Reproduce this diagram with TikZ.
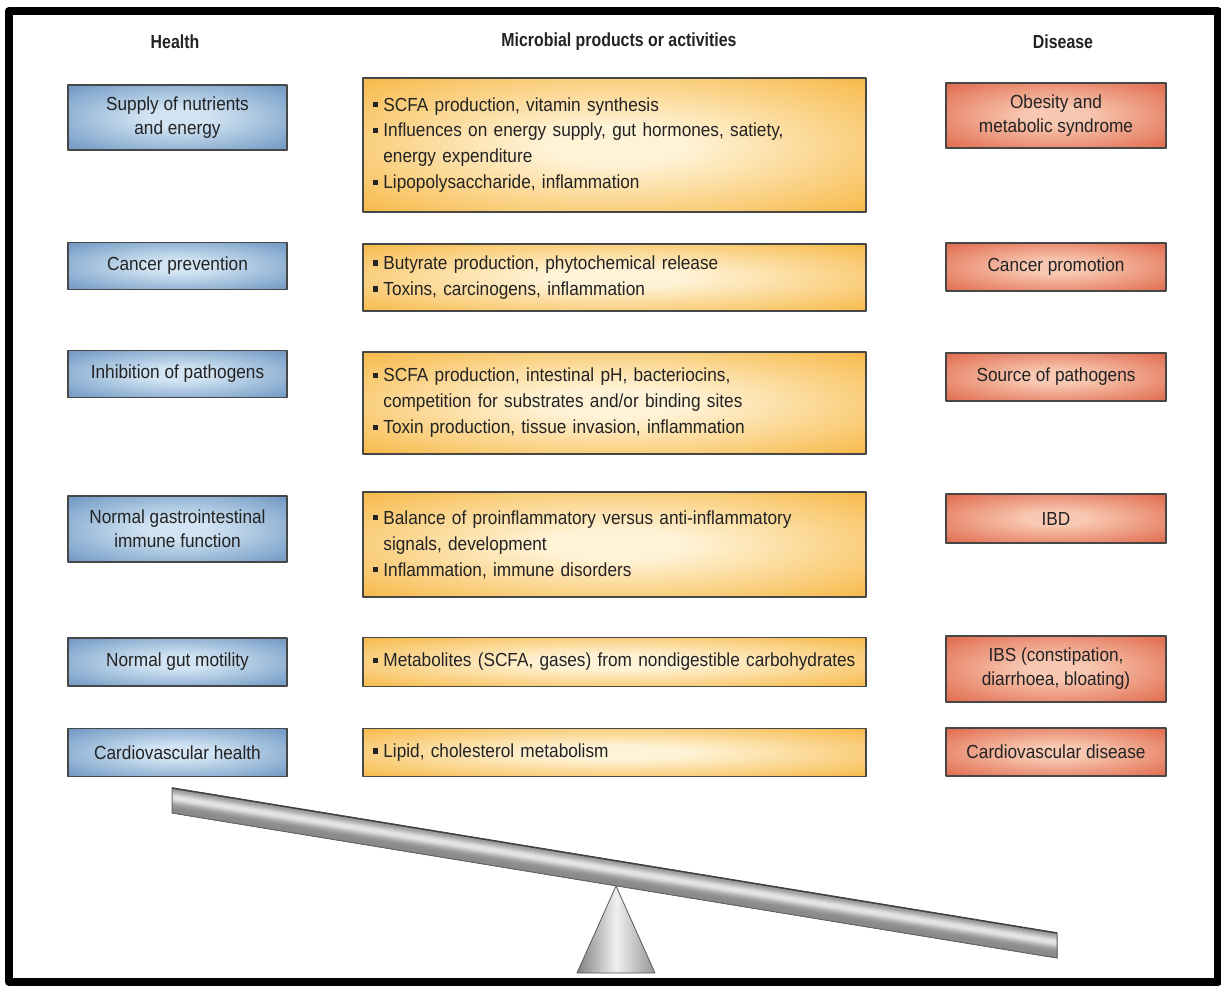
\documentclass[tikz,border=0pt]{standalone}
\usepackage{fontspec}
\setmainfont{Liberation Sans}[FakeStretch=0.91]
\newfontfamily\headfont{Liberation Sans}[FakeStretch=0.84]
\definecolor{blueIn}{RGB}{210,228,243}
\definecolor{blueOut}{RGB}{108,150,194}
\definecolor{orangeIn}{RGB}{255,243,215}
\definecolor{orangeOut}{RGB}{246,180,60}
\definecolor{redIn}{RGB}{248,200,178}
\definecolor{redOut}{RGB}{224,104,74}
\definecolor{txt}{RGB}{35,35,35}
\pgfdeclareradialshading[blueIn,blueOut]{glowblue}{\pgfpoint{0bp}{0bp}}{color(0bp)=(blueIn); color(7bp)=(blueIn); color(36bp)=(blueOut); color(80bp)=(blueOut)}
\pgfdeclareradialshading[orangeIn,orangeOut]{gloworange}{\pgfpoint{0bp}{0bp}}{color(0bp)=(orangeIn); color(7bp)=(orangeIn); color(38bp)=(orangeOut); color(80bp)=(orangeOut)}
\pgfdeclareradialshading[redIn,redOut]{glowred}{\pgfpoint{0bp}{0bp}}{color(0bp)=(redIn); color(7bp)=(redIn); color(36bp)=(redOut); color(80bp)=(redOut)}
\newcommand{\bul}{\makebox[0.55em][l]{\rule[0.2em]{0.28em}{0.28em}}}
\newcommand{\bulind}{\hspace*{0.55em}}
\begin{document}
\begin{tikzpicture}[x=1bp,y=-1bp,line join=round,
	box/.style={shade,draw=black!72,line width=1.4bp,inner sep=0pt,align=center,text=txt,font=\fontsize{19}{24}\selectfont},
	health/.style={box,shading=glowblue,minimum width=219bp},
	microbe/.style={box,shading=gloworange,minimum width=503bp,text width=483bp,align=left,inner xsep=10bp,font=\fontsize{19}{26}\selectfont},
	disease/.style={box,shading=glowred,minimum width=220bp},
	head/.style={text=txt,font=\headfont\bfseries\fontsize{19}{24}\selectfont}]
	\useasboundingbox (0,0) rectangle (1221,987);
	\draw[line width=8bp] (9,11) rectangle (1218,982);
	\node[head] (hh) at (175,42) {Health};
	\node[head] (hm) at (619,42) {Microbial products or activities};
	\node[head] (hd) at (1063,42) {Disease};
	\node[health,minimum height=65bp] (h1) at (177.5,117.5) {Supply of nutrients\\and energy};
	\node[health,minimum height=47bp] (h2) at (177.5,266) {Cancer prevention};
	\node[health,minimum height=47bp] (h3) at (177.5,374) {Inhibition of pathogens};
	\node[health,minimum height=66bp] (h4) at (177.5,529) {Normal gastrointestinal\\immune function};
	\node[health,minimum height=48bp] (h5) at (177.5,662) {Normal gut motility};
	\node[health,minimum height=48bp] (h6) at (177.5,752.5) {Cardiovascular health};
	\node[microbe,minimum height=134bp] (m1) at (614.5,145) {\bul SCFA production, vitamin synthesis\\\bul Influences on energy supply, gut hormones, satiety,\\\bulind energy expenditure\\\bul Lipopolysaccharide, inflammation};
	\node[microbe,minimum height=67bp] (m2) at (614.5,277.5) {\bul Butyrate production, phytochemical release\\\bul Toxins, carcinogens, inflammation};
	\node[microbe,minimum height=102bp] (m3) at (614.5,403) {\bul SCFA production, intestinal pH, bacteriocins,\\\bulind competition for substrates and/or binding sites\\\bul Toxin production, tissue invasion, inflammation};
	\node[microbe,minimum height=105bp] (m4) at (614.5,544.5) {\bul Balance of proinflammatory versus anti-inflammatory\\\bulind signals, development\\\bul Inflammation, immune disorders};
	\node[microbe,minimum height=49bp] (m5) at (614.5,662) {\mbox{\bul Metabolites (SCFA, gases) from nondigestible carbohydrates}};
	\node[microbe,minimum height=48bp] (m6) at (614.5,752.5) {\bul Lipid, cholesterol metabolism};
	\node[disease,minimum height=65bp] (d1) at (1056,115.5) {Obesity and\\metabolic syndrome};
	\node[disease,minimum height=48bp] (d2) at (1056,267) {Cancer promotion};
	\node[disease,minimum height=48bp] (d3) at (1056,377) {Source of pathogens};
	\node[disease,minimum height=49bp] (d4) at (1056,518.5) {IBD};
	\node[disease,minimum height=66bp] (d5) at (1056,669) {IBS (constipation,\\diarrhoea, bloating)};
	\node[disease,minimum height=48bp] (d6) at (1056,752) {Cardiovascular disease};
	\shade[left color=black!50,right color=black!42,middle color=black!6,draw=black!65,line width=0.8bp] (616,886) -- (655,973) -- (577,973) -- cycle;
	\foreach \i in {0,...,24}{
		\pgfmathsetmacro\lev{46-36*exp(-((\i-9)/6)^2)}
		\fill[black!\lev] (172,788+\i) -- (1057,933+\i) -- (1057,958) -- (172,813) -- cycle;
	}
	\draw[black!60,line width=1bp] (172,788) -- (1057,933) -- (1057,958) -- (172,813) -- cycle;
	\draw[black!75,line width=1.5bp] (172,788) -- (1057,933);
\end{tikzpicture}
\end{document}
